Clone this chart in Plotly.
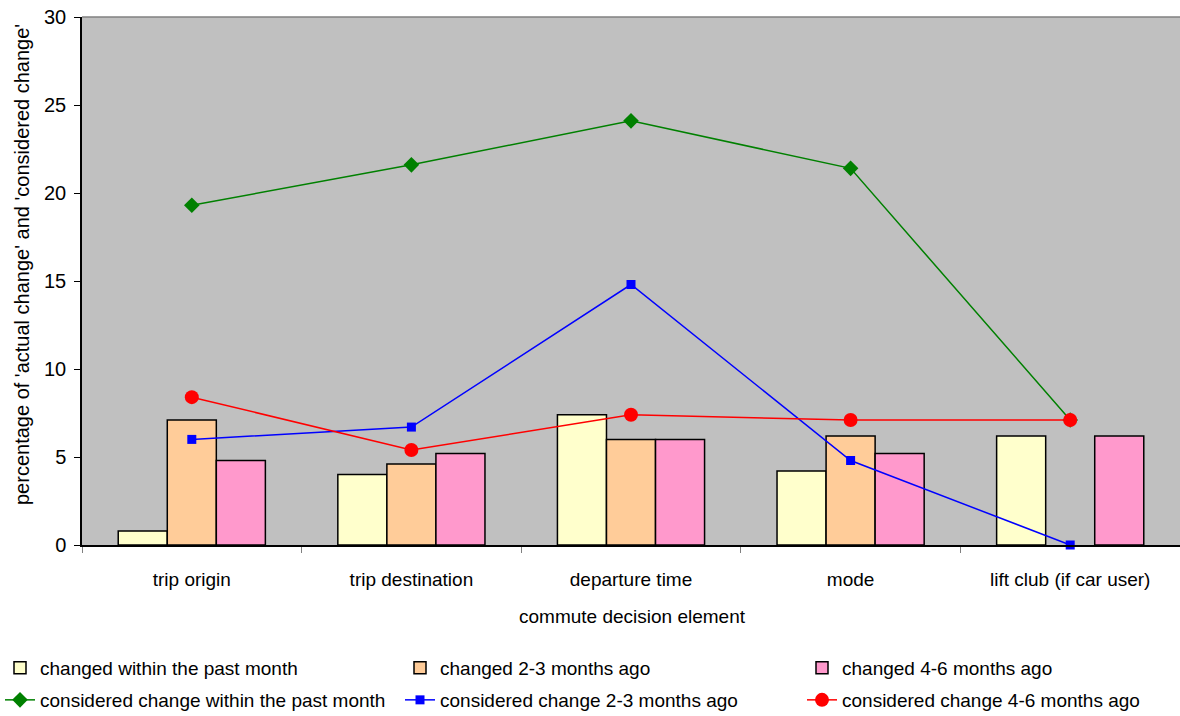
import plotly.graph_objects as go

categories = ["trip origin", "trip destination", "departure time", "mode", "lift club (if car user)"]

changed_past_month = [0.8, 4.0, 7.4, 4.2, 6.2]
changed_2_3_months = [7.1, 4.6, 6.0, 6.2, None]
changed_4_6_months = [4.8, 5.2, 6.0, 5.2, 6.2]

considered_past_month = [19.3, 21.6, 24.1, 21.4, 7.1]
considered_2_3_months = [6.0, 6.7, 14.8, 4.8, 0.0]
considered_4_6_months = [8.4, 5.4, 7.4, 7.1, 7.1]

FONT = "Liberation Sans, Arial, sans-serif"
W, H = 1180, 716
L, R, T, B = 82, 0, 17, 171
PW = W - L - R
PH = H - T - B


def px_to_paper_y(py):
    return (T + PH - py) / PH


def px_to_paper_x(px):
    return (px - L) / PW


LEGEND_COLS = [0, 400, 802]
LEGEND_ROWS = [668, 700]

fig = go.Figure()

bar_specs = [
    ("changed within the past month", changed_past_month, "#FFFFCC"),
    ("changed 2-3 months ago", changed_2_3_months, "#FFCC99"),
    ("changed 4-6 months ago", changed_4_6_months, "#FF99CC"),
]
line_specs = [
    ("considered change within the past month", considered_past_month, "#008000", "diamond", 12),
    ("considered change 2-3 months ago", considered_2_3_months, "#0000FF", "square", 9),
    ("considered change 4-6 months ago", considered_4_6_months, "#FF0000", "circle", 14),
]

legend_layout = {}
idx = 0
for i, (name, vals, col) in enumerate(bar_specs):
    idx += 1
    key = "legend" if idx == 1 else f"legend{idx}"
    fig.add_trace(go.Bar(
        x=categories, y=vals, name=name, legend=key,
        marker=dict(color=col, line=dict(color="black", width=1.5)),
    ))
    legend_layout[key] = dict(x=px_to_paper_x(LEGEND_COLS[i]), y=px_to_paper_y(LEGEND_ROWS[0]))

for i, (name, vals, col, sym, sz) in enumerate(line_specs):
    idx += 1
    key = f"legend{idx}"
    fig.add_trace(go.Scatter(
        x=categories, y=vals, name=name, mode="lines+markers", legend=key,
        line=dict(color=col, width=1.5),
        marker=dict(symbol=sym, size=sz, color=col),
        cliponaxis=False,
    ))
    legend_layout[key] = dict(x=px_to_paper_x(LEGEND_COLS[i]), y=px_to_paper_y(LEGEND_ROWS[1]))

for key, pos in legend_layout.items():
    pos.update(
        orientation="h", xanchor="left", yanchor="middle",
        font=dict(family=FONT, size=19, color="black"),
        bgcolor="rgba(0,0,0,0)",
    )

fig.update_layout(
    width=W, height=H,
    margin=dict(l=L, r=R, t=T, b=B, autoexpand=False),
    paper_bgcolor="white",
    plot_bgcolor="#C0C0C0",
    barmode="group",
    bargap=0.33,
    bargroupgap=0,
    font=dict(family=FONT, size=19, color="black"),
    showlegend=True,
    xaxis=dict(
        type="category",
        range=[-0.5, 4.5],
        automargin=False,
        showline=True, linecolor="black", linewidth=1.5,
        ticks="outside", tickson="boundaries", ticklen=6, tickcolor="#808080",
        ticklabelstandoff=16,
        showgrid=False,
        tickfont=dict(family=FONT, size=19),
    ),
    yaxis=dict(
        range=[0, 30], dtick=5,
        automargin=False,
        showline=True, linecolor="black", linewidth=1.5,
        ticks="outside", ticklen=6, tickcolor="black",
        ticklabelstandoff=4,
        showgrid=False, zeroline=False,
        tickfont=dict(family=FONT, size=20),
    ),
    annotations=[
        dict(text="commute decision element", xref="paper", yref="paper",
             x=px_to_paper_x(632), y=px_to_paper_y(617), xanchor="center", yanchor="middle",
             showarrow=False, font=dict(family=FONT, size=19)),
        dict(text="percentage of 'actual change' and 'considered change'", xref="paper", yref="paper",
             x=px_to_paper_x(22), y=px_to_paper_y(265), xanchor="center", yanchor="middle",
             textangle=-90, showarrow=False, font=dict(family=FONT, size=20)),
    ],
    **legend_layout,
)

fig.add_shape(type="line", xref="paper", yref="paper", x0=0, x1=1, y0=1, y1=1,
              line=dict(color="#808080", width=1.5))

fig.write_html(
    "out.html",
    config={"displayModeBar": False},
    post_script="document.body.style.margin='0';document.body.style.overflow='hidden';",
)
